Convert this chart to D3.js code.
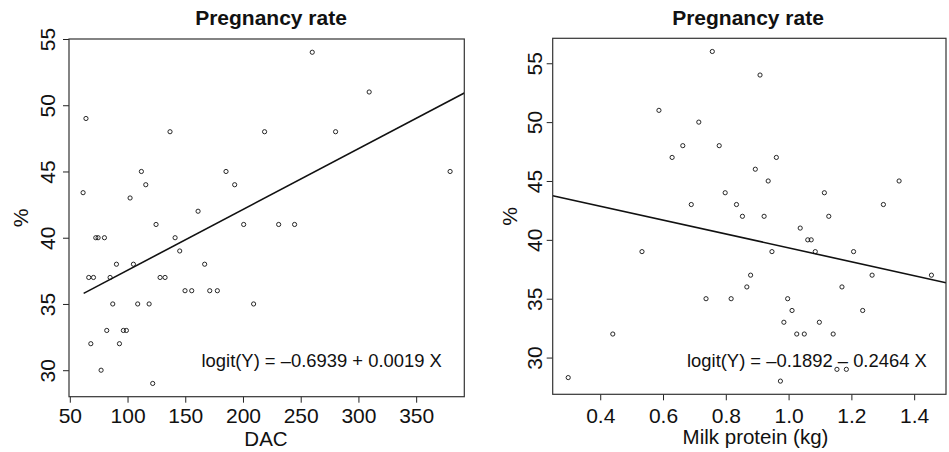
<!DOCTYPE html>
<html>
<head>
<meta charset="utf-8">
<script src="https://cdn.jsdelivr.net/npm/d3@7"></script>
<style>
  html, body { margin: 0; padding: 0; background: #fff; }
  svg { display: block; font-family: "Liberation Sans", Arial, Helvetica, sans-serif; }
</style>
</head>
<body>
<svg id="chart" width="949" height="452"></svg>
<script>
// ---------- DATA ----------
const chartTitle = "Pregnancy rate";
const yLabel = "%";

// Left panel: DAC vs pregnancy rate (%)
const dacX = [61.5, 64, 66.4, 70.5, 68.2, 72.5, 74.5, 80, 77.1, 82, 84.9, 87.2, 90.4, 93, 96.4, 99,
  102.2, 105.1, 108.8, 112, 115.8, 118.7, 121.8, 124.7, 128.2, 132.5, 136.8, 141.2, 145.2, 149.8,
  155.6, 161.1, 166.8, 171.2, 177.8, 185.3, 192.8, 200.6, 209.2, 218.7, 230.9, 244.7, 260, 280.2, 309.3, 379.4];
const dacY = [43.4, 49, 37, 37, 32, 40, 40, 40, 30, 33, 37, 35, 38, 32, 33, 33,
  43, 38, 35, 45, 44, 35, 29, 41, 37, 37, 48, 40, 39, 36,
  36, 42, 38, 36, 36, 45, 44, 41, 35, 48, 41, 41, 54, 48, 51, 45];
const dacLineX = [62, 391.7];
const dacLineY = [35.8, 50.93];
const dacXTicks = [50, 100, 150, 200, 250, 300, 350];
const dacXTickLabels = ["50", "100", "150", "200", "250", "300", "350"];
const dacYTicks = [30, 35, 40, 45, 50, 55];
const dacYTickLabels = ["30", "35", "40", "45", "50", "55"];
const dacXLabel = "DAC";
const dacEquation = "logit(Y) = \u20130.6939 + 0.0019 X";

// Right panel: Milk protein (kg) vs pregnancy rate (%)
const milkX = [0.298, 0.440, 0.533, 0.587, 0.629, 0.663, 0.690, 0.714, 0.737, 0.757, 0.779, 0.798,
  0.817, 0.834, 0.853, 0.867, 0.879, 0.894, 0.909, 0.922, 0.935, 0.947, 0.961, 0.974, 0.985, 0.997,
  1.011, 1.026, 1.037, 1.050, 1.061, 1.072, 1.085, 1.098, 1.114, 1.128, 1.142, 1.154, 1.170, 1.184,
  1.207, 1.236, 1.266, 1.302, 1.352, 1.455];
const milkY = [28.3, 32, 39, 51, 47, 48, 43, 50, 35, 56, 48, 44,
  35, 43, 42, 36, 37, 46, 54, 42, 45, 39, 47, 28, 33, 35,
  34, 32, 41, 32, 40, 40, 39, 33, 44, 42, 32, 29, 36, 29,
  39, 34, 37, 43, 45, 37];
const milkLineX = [0.2486, 1.5014];
const milkLineY = [43.75, 36.36];
const milkXTicks = [0.4, 0.6, 0.8, 1.0, 1.2, 1.4];
const milkXTickLabels = ["0.4", "0.6", "0.8", "1.0", "1.2", "1.4"];
const milkYTicks = [30, 35, 40, 45, 50, 55];
const milkYTickLabels = ["30", "35", "40", "45", "50", "55"];
const milkXLabel = "Milk protein (kg)";
const milkEquation = "logit(Y) = \u20130.1892 \u2013 0.2464 X";

// ---------- DRAW ----------
const svg = d3.select("#chart");

function drawPanel(cfg) {
  const g = svg.append("g");
  const x = d3.scaleLinear().domain(cfg.xDomain).range([cfg.x0, cfg.x1]);
  const y = d3.scaleLinear().domain(cfg.yDomain).range([cfg.y1, cfg.y0]);

  // points
  const pts = cfg.xs.map((v, i) => [v, cfg.ys[i]]);
  g.append("g").selectAll("circle").data(pts).join("circle")
    .attr("cx", d => x(d[0])).attr("cy", d => y(d[1])).attr("r", 2.1)
    .attr("fill", "none").attr("stroke", "#111").attr("stroke-width", 0.9);

  // fitted line
  const clipId = "clip" + cfg.id;
  svg.append("clipPath").attr("id", clipId).append("rect")
    .attr("x", cfg.x0).attr("y", cfg.y0).attr("width", cfg.x1 - cfg.x0).attr("height", cfg.y1 - cfg.y0);
  const linePts = cfg.lineX.map((v, i) => [v, cfg.lineY[i]]);
  g.append("path").datum(linePts)
    .attr("clip-path", `url(#${clipId})`)
    .attr("d", d3.line().x(d => x(d[0])).y(d => y(d[1])))
    .attr("fill", "none").attr("stroke", "#111").attr("stroke-width", 1.6);

  // x axis
  const xAxis = d3.axisBottom(x).tickValues(cfg.xTicks)
    .tickFormat((d, i) => cfg.xTickLabels[i]).tickSize(6).tickPadding(4);
  const gx = g.append("g").attr("transform", `translate(0,${cfg.y1})`).call(xAxis);
  gx.select(".domain").remove();
  gx.selectAll(".tick line").attr("stroke", "#222").attr("stroke-width", 1);
  gx.selectAll(".tick text").attr("font-size", 21).attr("fill", "#111")
    .attr("dy", null).attr("y", cfg.xTickBaseline - cfg.y1);

  // y axis
  const yAxis = d3.axisLeft(y).tickValues(cfg.yTicks)
    .tickFormat((d, i) => cfg.yTickLabels[i]).tickSize(6);
  const gy = g.append("g").attr("transform", `translate(${cfg.x0},0)`).call(yAxis);
  gy.select(".domain").remove();
  gy.selectAll(".tick line").attr("stroke", "#222").attr("stroke-width", 1);
  gy.selectAll(".tick text").attr("font-size", 21).attr("fill", "#111")
    .attr("x", null).attr("dy", null).attr("text-anchor", "middle")
    .attr("transform", `translate(${-cfg.yTickGap},0) rotate(-90)`);

  // box
  g.append("rect").attr("x", cfg.x0).attr("y", cfg.y0)
    .attr("width", cfg.x1 - cfg.x0).attr("height", cfg.y1 - cfg.y0)
    .attr("fill", "none").attr("stroke", "#333").attr("stroke-width", 1.2);

  // title
  g.append("text").attr("x", cfg.titleX).attr("y", 24.5).attr("text-anchor", "middle")
    .attr("font-size", 21).attr("font-weight", "bold").attr("fill", "#111").text(chartTitle);

  // x label
  g.append("text").attr("x", cfg.xLabelX).attr("y", cfg.xLabelY).attr("text-anchor", "middle")
    .attr("font-size", 20.5).attr("fill", "#111").text(cfg.xLabel);

  // y label
  g.append("text").attr("transform", `translate(${cfg.yLabelX},${(cfg.y0 + cfg.y1) / 2}) rotate(-90)`)
    .attr("text-anchor", "middle").attr("font-size", 21).attr("fill", "#111").text(yLabel);

  // equation
  g.append("text").attr("x", cfg.eqX).attr("y", cfg.eqY).attr("text-anchor", "start")
    .attr("font-size", 18.4).attr("fill", "#111").text(cfg.equation);
}

drawPanel({
  id: "L", xs: dacX, ys: dacY, lineX: dacLineX, lineY: dacLineY,
  xDomain: [49.3, 391.7], yDomain: [28, 55],
  x0: 69, x1: 464.3, y0: 39, y1: 396.7,
  xTicks: dacXTicks, xTickLabels: dacXTickLabels, yTicks: dacYTicks, yTickLabels: dacYTickLabels,
  xTickBaseline: 423, yTickGap: 14,
  titleX: 271, xLabel: dacXLabel, xLabelX: 266, xLabelY: 446, yLabelX: 27.5,
  equation: dacEquation, eqX: 201.5, eqY: 367
});

drawPanel({
  id: "R", xs: milkX, ys: milkY, lineX: milkLineX, lineY: milkLineY,
  xDomain: [0.2486, 1.5014], yDomain: [26.88, 57.12],
  x0: 552.7, x1: 946, y0: 38.3, y1: 394.3,
  xTicks: milkXTicks, xTickLabels: milkXTickLabels, yTicks: milkYTicks, yTickLabels: milkYTickLabels,
  xTickBaseline: 423, yTickGap: 11,
  titleX: 748, xLabel: milkXLabel, xLabelX: 755.5, xLabelY: 444, yLabelX: 516.5,
  equation: milkEquation, eqX: 687, eqY: 367
});
</script>
</body>
</html>
